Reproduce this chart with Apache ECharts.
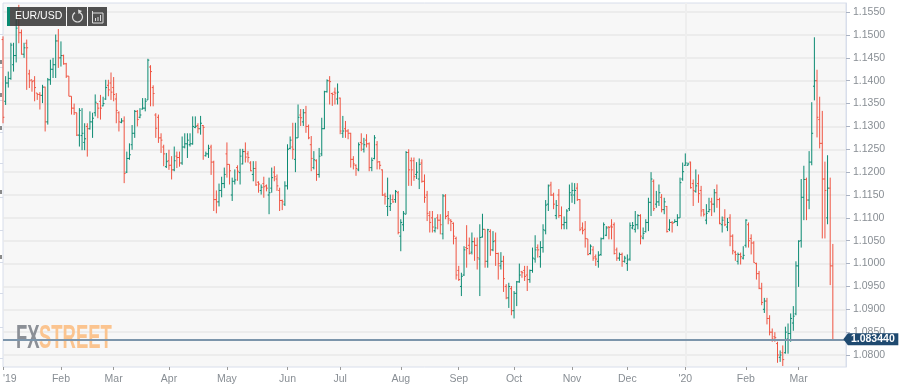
<!DOCTYPE html>
<html>
<head>
<meta charset="utf-8">
<style>
  html, body { margin: 0; padding: 0; background: #fff; }
  #chart { width: 900px; height: 389px; }
</style>
<script src="https://cdn.jsdelivr.net/npm/echarts@6/dist/echarts.min.js"></script>
</head>
<body>
<div id="chart"></div>
<script>
// daily EUR/USD bars, in pips above 1.0000 (1497 = 1.1497)
const highs = [
  1497,1410,1420,1483,1483,1555,1566,1512,1483,1490, 1424,1402,1410,1373,1375,1391,1387,1406,1446,1450,
  1501,1513,1486,1457,1439,1410,1366,1350,1330,1340, 1340,1307,1307,1333,1330,1370,1351,1369,1365,1402,
  1402,1418,1408,1373,1333,1318,1322,1245,1263,1303, 1336,1336,1340,1362,1362,1448,1434,1390,1329,1326,
  1285,1260,1242,1249,1235,1256,1245,1245,1278,1285, 1285,1285,1322,1322,1307,1323,1303,1245,1260,1260,
  1225,1160,1175,1190,1210,1265,1217,1188,1206,1215, 1251,1251,1265,1246,1224,1224,1224,1180,1173,1190,
  1173,1188,1210,1213,1195,1166,1140,1180,1261,1278, 1308,1308,1348,1338,1338,1345,1304,1279,1246,1228,
  1253,1319,1378,1403,1410,1374,1385,1394,1363,1323, 1312,1294,1286,1235,1217,1265,1285,1275,1283,1265,
  1232,1281,1268,1224,1206,1155,1188,1151,1151,1161, 1159,1097,1115,1246,1250,1232,1232,1222,1230,1228,
  1195,1159,1115,1115,1100,1108,1108,1152,1152,1115, 1097,1090,1059,995,980,1038,1084,1057,1068,1057,
  1057,1086,1109,1075,1076,1075,1071,1068,1024,1025, 1017,955,958,951,940,962,1000,984,995,995,
  987,1035,1062,1042,1049,1086,1139,1173,1179,1155, 1139,1163,1125,1103,1119,1173,1177,1176,1176,1141,
  1090,1093,1054,1042,1038,1020,1027,1057,1090,1082, 1082,1097,1090,1035,1024,1024,1017,1020,1090,1091,
  1115,1108,1108,1079,1097,1144,1200,1184,1159,1173, 1152,1144,1126,1097,1093,1097,1108,1188,1221,1241,
  1221,1223,1184,1206,1195,1170,1119,1130,1144,1144, 1163,1173,1144,1103,1119,1100,1108,1064,1028,1024,
  1024,1038,1097,1090,1064,1049,1002,984,958,925, 925,887,858,850,829,810,821,862,869,891,
  907,1005,1051,1185,1214,1188,1246,1353,1495,1424,1365,1334,1223,1237,1188,1043
];
const lows = [
  1307,1347,1385,1402,1420,1440,1482,1457,1450,1380, 1384,1376,1355,1358,1337,1351,1289,1304,1391,1406,
  1406,1428,1431,1435,1406,1366,1326,1325,1279,1256, 1248,1248,1234,1293,1275,1322,1318,1315,1344,1358,
  1366,1358,1355,1307,1289,1307,1176,1198,1227,1249, 1275,1300,1318,1337,1333,1358,1344,1344,1275,1264,
  1242,1213,1209,1205,1184,1202,1209,1212,1216,1252, 1231,1256,1260,1296,1285,1282,1227,1234,1231,1194,
  1115,1110,1125,1145,1165,1188,1173,1137,1173,1181, 1173,1217,1221,1221,1202,1180,1170,1155,1151,1144,
  1158,1108,1155,1180,1159,1115,1117,1126,1162,1250, 1228,1200,1275,1301,1301,1286,1272,1202,1206,1181,
  1188,1235,1294,1374,1348,1345,1348,1348,1283,1275, 1275,1272,1210,1206,1192,1202,1246,1243,1254,1202,
  1202,1228,1206,1206,1148,1129,1104,1115,1133,1133, 1064,1027,1071,1108,1170,1170,1181,1185,1163,1177,
  1133,1093,1068,1068,1068,1075,1064,1053,1097,1086, 1071,1042,965,962,929,973,991,1020,1020,1006,
  987,929,1057,991,991,1017,1027,995,965,987, 938,922,903,887,880,907,958,969,962,940,
  958,980,1002,1013,991,1024,1064,1115,1148,1119, 1097,1100,1075,1075,1075,1115,1133,1130,1137,1071,
  1064,1035,1018,1020,1006,995,991,1017,1053,1060, 1053,1053,1020,1006,1006,993,1002,984,1006,1075,
  1068,1075,1042,1053,1068,1071,1104,1115,1122,1126, 1112,1108,1068,1071,1068,1090,1082,1100,1181,1214,
  1214,1164,1126,1155,1133,1103,1103,1086,1112,1104, 1112,1122,1086,1068,1082,1071,1038,1020,1006,998,
  998,1009,1035,1035,1020,1002,965,944,909,892, 867,843,829,829,783,785,776,803,803,829,
  853,887,949,1035,1095,1095,1119,1215,1357,1276,1252,1055,1055,1086,953,833
];
const opens = [
  1490,1355,1395,1405,1435,1455,1540,1505,1458,1482, 1415,1402,1400,1373,1370,1368,1386,1310,1402,1425,
  1435,1487,1450,1455,1437,1410,1366,1340,1330,1281, 1280,1265,1300,1295,1310,1330,1350,1355,1345,1360,
  1390,1395,1385,1360,1330,1309,1312,1200,1230,1260, 1285,1333,1320,1338,1340,1358,1430,1385,1325,1320,
  1275,1255,1212,1225,1215,1205,1235,1232,1220,1255, 1262,1260,1262,1298,1302,1295,1302,1236,1240,1255,
  1222,1140,1135,1160,1175,1240,1217,1150,1180,1210, 1199,1218,1245,1240,1220,1195,1208,1178,1160,1175,
  1170,1150,1165,1200,1185,1160,1138,1130,1170,1252, 1255,1228,1275,1325,1310,1330,1300,1260,1210,1225,
  1195,1240,1295,1376,1400,1372,1375,1360,1362,1285, 1295,1290,1285,1228,1215,1205,1265,1250,1270,1262,
  1210,1230,1260,1223,1205,1150,1125,1125,1140,1140, 1155,1060,1085,1108,1243,1225,1225,1195,1185,1220,
  1180,1150,1105,1100,1072,1100,1095,1065,1148,1105, 1095,1088,1055,985,950,975,1035,1040,1025,1048,
  1040,1010,1058,1075,1005,1070,1030,1050,1022,995, 1005,950,925,945,897,935,960,982,985,975,
  965,985,1010,1035,1015,1035,1072,1130,1172,1150, 1105,1150,1105,1085,1090,1120,1150,1150,1165,1140,
  1078,1075,1054,1022,1030,1015,1005,1020,1055,1062, 1080,1082,1085,1030,1012,1020,1005,1000,1010,1078,
  1075,1085,1105,1056,1070,1090,1134,1180,1130,1135, 1145,1118,1125,1075,1090,1090,1092,1100,1185,1215,
  1215,1222,1175,1158,1175,1160,1118,1095,1114,1135, 1130,1155,1140,1085,1100,1080,1100,1060,1025,1005,
  1020,1012,1040,1085,1055,1045,1000,978,945,900, 918,880,850,840,825,795,805,805,835,847,
  870,890,995,1050,1145,1184,1139,1222,1388,1400,1315,1263,1185,1100,1165,995
];
const closes = [
  1320,1395,1405,1478,1455,1515,1505,1458,1472,1472, 1400,1398,1385,1370,1368,1386,1310,1402,1425,1435,
  1487,1450,1455,1437,1410,1366,1340,1330,1281,1335, 1285,1273,1295,1310,1318,1353,1340,1340,1350,1385,
  1380,1375,1370,1335,1310,1312,1197,1230,1238,1285, 1333,1315,1325,1340,1355,1445,1420,1372,1296,1275,
  1270,1240,1223,1215,1205,1225,1232,1220,1255,1262, 1270,1262,1300,1300,1295,1307,1298,1240,1252,1222,
  1140,1135,1160,1175,1195,1217,1203,1180,1183,1202, 1235,1245,1233,1232,1203,1208,1172,1174,1167,1168,
  1165,1155,1188,1190,1170,1138,1135,1170,1250,1270, 1250,1275,1320,1319,1330,1300,1275,1230,1227,1195,
  1235,1295,1376,1400,1398,1370,1373,1375,1290,1290, 1290,1285,1228,1218,1208,1260,1262,1260,1262,1210,
  1226,1275,1222,1215,1150,1147,1142,1131,1135,1158, 1068,1090,1110,1243,1205,1205,1190,1200,1217,1180,
  1145,1110,1090,1080,1078,1095,1085,1148,1103,1098, 1092,1060,975,965,972,1030,1033,1022,1048,1040,
  1013,1057,1075,1005,1074,1030,1048,1022,1000,1005, 967,925,950,897,935,960,975,980,972,965,
  985,1012,1030,1030,1035,1074,1128,1170,1150,1130, 1127,1105,1085,1090,1115,1155,1160,1160,1140,1075,
  1072,1055,1020,1038,1012,1010,1018,1054,1085,1078, 1079,1080,1022,1012,1020,1005,1012,1008,1083,1083,
  1085,1105,1060,1066,1090,1134,1185,1120,1135,1155, 1118,1135,1070,1090,1088,1092,1100,1177,1201,1220,
  1218,1166,1160,1170,1153,1115,1108,1110,1118,1130, 1155,1140,1088,1095,1085,1090,1060,1028,1020,1020,
  1015,1018,1095,1050,1045,1002,978,946,915,918, 880,850,835,838,800,800,790,850,847,880,
  885,995,1049,1145,1184,1139,1222,1285,1400,1320,1263,1185,1160,1165,995,834
];
const monthLabels = ["'19", 'Feb', 'Mar', 'Apr', 'May', 'Jun', 'Jul', 'Aug', 'Sep', 'Oct', 'Nov', 'Dec', "'20", 'Feb', 'Mar'];
const monthStart = [0, 22, 42, 63, 85, 108, 128, 151, 173, 194, 216, 237, 259, 282, 302];
const priceTicks = [1.08, 1.085, 1.09, 1.095, 1.10, 1.105, 1.11, 1.115, 1.12, 1.125, 1.13, 1.135, 1.14, 1.145, 1.15, 1.155];
const lastPrice = 1.08344;

const UP = '#0b8a72';
const DOWN = '#ef5442';

const categories = new Array(321).fill('');
monthStart.forEach((idx, i) => { categories[idx] = monthLabels[i]; });

const bars = closes.map((c, i) => [i, opens[i] / 1e4 + 1, highs[i] / 1e4 + 1, lows[i] / 1e4 + 1, c / 1e4 + 1]);

const chart = echarts.init(document.getElementById('chart'), null, { renderer: 'canvas' });

function renderBar(params, api) {
    const x = api.value(0);
    const o = api.coord([x, api.value(1)]);
    const h = api.coord([x, api.value(2)]);
    const l = api.coord([x, api.value(3)]);
    const c = api.coord([x, api.value(4)]);
    const style = { stroke: api.value(4) >= api.value(1) ? UP : DOWN, lineWidth: 1, fill: null };
    return {
        type: 'group',
        children: [
            { type: 'line', shape: { x1: h[0], y1: h[1], x2: l[0], y2: l[1] }, style },
            { type: 'line', shape: { x1: o[0] - 1.4, y1: o[1], x2: o[0], y2: o[1] }, style },
            { type: 'line', shape: { x1: c[0], y1: c[1], x2: c[0] + 1.4, y2: c[1] }, style }
        ]
    };
}

const panel = 'rgba(52,52,52,0.86)';

// leftovers of the hidden left scale, visible at the very edge
const edgeTicks = [34, 67, 100, 132, 163, 197, 230, 262, 293, 327, 358].map((y) => ({
    type: 'rect', z: 1, shape: { x: 0, y, width: 3, height: 1 }, style: { fill: '#d5dbe8' }
}));
const edgeStubs = [62, 95, 128, 192, 257].map((y) => ({
    type: 'rect', z: 1, shape: { x: 0, y: y - 2, width: 2, height: 4 }, style: { fill: '#8a8a8a' }
}));

chart.setOption({
    animation: false,
    grid: {
        left: 3, right: 54, top: 3, bottom: 22,
        show: true, backgroundColor: '#f7f7f7', borderColor: '#d8deeb', borderWidth: 1
    },
    xAxis: {
        type: 'category',
        data: categories,
        boundaryGap: false,
        axisLine: { show: false },
        axisTick: { show: true, length: 3, lineStyle: { color: '#9a9a9a' }, interval: (i) => monthStart.includes(i) },
        axisLabel: {
            color: '#888e94', fontFamily: 'Liberation Sans', fontSize: 10.5, margin: 7,
            interval: (i) => monthStart.includes(i),
            alignMinLabel: 'left'
        },
        splitLine: { show: true, interval: (i) => i === 259, lineStyle: { color: '#eeeeee', width: 2 } }
    },
    yAxis: {
        type: 'value',
        position: 'right',
        min: 1.07738,
        max: 1.157,
        axisLine: { show: true, lineStyle: { color: '#d8deeb' } },
        axisTick: { show: true, length: 4, customValues: priceTicks, lineStyle: { color: '#aab2c2' } },
        axisLabel: {
            customValues: priceTicks,
            color: '#888e94', fontFamily: 'Liberation Sans', fontSize: 10.5, margin: 7,
            padding: [4, 0, 0, 0],
            formatter: (v) => v.toFixed(4)
        },
        splitLine: { show: true, lineStyle: { color: '#e9e9e9', width: 1.5 } }
    },
    series: [
        {
            type: 'custom',
            renderItem: renderBar,
            data: bars,
            encode: { x: 0, y: [1, 2, 3, 4] },
            silent: true,
            z: 3
        },
        {
            type: 'line',
            data: [],
            silent: true,
            z: 5,
            markLine: {
                silent: true,
                symbol: 'none',
                animation: false,
                precision: 5,
                label: { show: false },
                lineStyle: { color: '#7c95ab', width: 2, type: 'solid' },
                data: [{ yAxis: lastPrice }]
            },
            markPoint: {
                silent: true,
                animation: false,
                symbol: 'path://M0 50 L5 0 L60 0 L60 100 L5 100 Z',
                symbolSize: [55, 12],
                symbolOffset: [38, 0],
                itemStyle: { color: '#1f4a70' },
                label: {
                    show: true, position: 'inside', offset: [2, 0], color: '#fff',
                    fontFamily: 'Liberation Sans', fontWeight: 'bold', fontSize: 10.5,
                    formatter: lastPrice.toFixed(6)
                },
                data: [{ coord: [315, lastPrice] }]
            }
        }
    ],
    graphic: [
        ...edgeTicks,
        ...edgeStubs,
        // watermark
        { type: 'text', z: 1, x: 16, y: 322, scaleX: 0.56, style: { text: 'FX', fontFamily: 'Liberation Sans', fontWeight: 'bold', fontSize: 33, fill: '#8b8f96' } },
        { type: 'text', z: 1, x: 39, y: 322, scaleX: 0.56, style: { text: 'STREET', fontFamily: 'Liberation Sans', fontWeight: 'bold', fontSize: 33, fill: '#fbc48f' } },
        // toolbar
        { type: 'rect', z: 50, shape: { x: 7, y: 7, width: 59, height: 19 }, style: { fill: panel } },
        { type: 'rect', z: 51, shape: { x: 7, y: 7, width: 3, height: 19 }, style: { fill: '#0b8a72' } },
        { type: 'text', z: 51, x: 15, y: 11, style: { text: 'EUR/USD', fontFamily: 'Liberation Sans', fontSize: 10.5, fill: '#fff' } },
        { type: 'rect', z: 50, shape: { x: 67, y: 7, width: 20, height: 19 }, style: { fill: panel } },
        { type: 'arc', z: 51, shape: { cx: 77.5, cy: 17, r: 5, startAngle: -1.2, endAngle: 4.2 }, style: { stroke: '#ddd', lineWidth: 1.2, fill: null } },
        { type: 'polygon', z: 51, shape: { points: [[78, 9.5], [82, 11], [78.5, 14]] }, style: { fill: '#ddd' } },
        { type: 'rect', z: 50, shape: { x: 88, y: 7, width: 19, height: 19 }, style: { fill: panel } },
        { type: 'polyline', z: 51, shape: { points: [[93, 13], [103, 13], [103, 23], [92.5, 23], [92.5, 11]] }, style: { stroke: '#ddd', lineWidth: 1, fill: null } },
        { type: 'rect', z: 51, shape: { x: 95, y: 18, width: 1, height: 3 }, style: { fill: '#ddd' } },
        { type: 'rect', z: 51, shape: { x: 97.5, y: 17, width: 1, height: 4 }, style: { fill: '#ddd' } },
        { type: 'rect', z: 51, shape: { x: 100, y: 15, width: 1, height: 6 }, style: { fill: '#ddd' } }
    ]
});

window.addEventListener('resize', () => chart.resize());
</script>
</body>
</html>
